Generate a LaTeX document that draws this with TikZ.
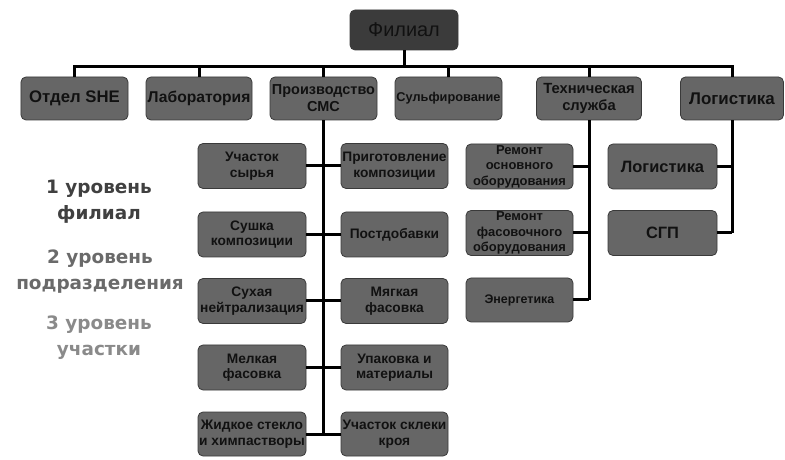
\documentclass[tikz,border=0pt]{standalone}
\usepackage{fontspec}
\setmainfont{Liberation Sans}
\newfontfamily\lblfont{DejaVu Sans}
\definecolor{topfill}{HTML}{3B3B3B}
\definecolor{boxfill}{HTML}{666666}
\definecolor{boxline}{HTML}{3A3A3A}
\definecolor{txtdark}{HTML}{111111}
\definecolor{lvlA}{HTML}{404040}
\definecolor{lvlB}{HTML}{6A6A6A}
\definecolor{lvlC}{HTML}{8A8A8A}
\newcommand{\fsz}[2]{\fontsize{#1}{#2}\selectfont}
\tikzset{
  orgbox/.style={rectangle, rounded corners=5bp, draw=boxline, line width=0.8bp,
    fill=boxfill, text=txtdark, align=center, inner sep=0pt},
  topbox/.style={orgbox, fill=topfill},
  wire/.style={line width=3bp, black},
  lvl/.style={align=center, font=\lblfont\bfseries\fsz{18.5}{26}}
}
\begin{document}
\begin{tikzpicture}[x=1bp,y=-1bp]
\useasboundingbox (0,0) rectangle (785,460);
\fill[white] (0,0) rectangle (785,460);
% top
\node[topbox, minimum width=108bp, minimum height=40bp, font=\fsz{20}{24}] (fil) at (404,30) {Филиал};
% level 2
\node[orgbox, minimum width=107bp, minimum height=43bp, font=\bfseries\fsz{16.8}{19}] (she) at (74.5,98.5) {Отдел SHE};
\node[orgbox, minimum width=106bp, minimum height=43bp, font=\bfseries\fsz{15.7}{18}] (lab) at (199,98.5) {Лаборатория};
\node[orgbox, minimum width=107bp, minimum height=43bp, font=\bfseries\fsz{14.5}{17}] (prod) at (323.5,98.5) {Производство\\СМС};
\node[orgbox, minimum width=107bp, minimum height=43bp, font=\bfseries\fsz{12.8}{15}] (sulf) at (448.5,98.5) {Сульфирование};
\node[orgbox, minimum width=105bp, minimum height=43bp, font=\bfseries\fsz{14.8}{17}] (tech) at (589,98.5) {Техническая\\служба};
\node[orgbox, minimum width=103bp, minimum height=43bp, font=\bfseries\fsz{17}{20}] (log) at (732,98.5) {Логистика};
% production children
\tikzset{pbox/.style={orgbox, minimum height=45bp, font=\bfseries\fsz{13.8}{15.5}}}
\node[pbox, minimum width=108bp] (p1) at (252,166) {Участок\\сырья};
\node[pbox, minimum width=107bp] (p2) at (394.5,166) {Приготовление\\композиции};
\node[pbox, minimum width=108bp] (p3) at (252,234.5) {Сушка\\композиции};
\node[pbox, minimum width=107bp] (p4) at (394.5,234.5) {Постдобавки};
\node[pbox, minimum width=108bp] (p5) at (252,301) {Сухая\\нейтрализация};
\node[pbox, minimum width=107bp] (p6) at (394.5,301) {Мягкая\\фасовка};
\node[pbox, minimum width=108bp] (p7) at (252,367.5) {Мелкая\\фасовка};
\node[pbox, minimum width=107bp] (p8) at (394.5,367.5) {Упаковка и\\материалы};
\node[pbox, minimum width=108bp, minimum height=44bp] (p9) at (252,434) {Жидкое стекло\\и химпастворы};
\node[pbox, minimum width=107bp, minimum height=44bp] (p10) at (394.5,434) {Участок склеки\\кроя};
% tech children
\node[orgbox, minimum width=107bp, minimum height=45bp, font=\bfseries\fsz{13}{15.5}] (t1) at (519.5,166.5) {Ремонт\\основного\\оборудования};
\node[orgbox, minimum width=107bp, minimum height=45bp, font=\bfseries\fsz{13}{15.5}] (t2) at (519.5,233) {Ремонт\\фасовочного\\оборудования};
\node[orgbox, minimum width=107bp, minimum height=44bp, font=\bfseries\fsz{12.5}{15}] (t3) at (519.5,300) {Энергетика};
% logistics children
\node[orgbox, minimum width=109bp, minimum height=45bp, font=\bfseries\fsz{16.5}{19}] (l1) at (662.5,166.5) {Логистика};
\node[orgbox, minimum width=109bp, minimum height=45bp, font=\bfseries\fsz{16.5}{19}] (l2) at (662.5,233) {СГП};
% bus
\draw[wire] (fil.south) -- ++(0,16) coordinate (bus);
\draw[wire] (she.north) -- (she.north |- bus) -- (log.north |- bus) -- (log.north);
\foreach \n in {lab,prod,sulf,tech} \draw[wire] (\n.north) -- (\n.north |- bus);
% production spine
\draw[wire] (prod.south) -- (prod.south |- p10.west);
\foreach \n in {p1,p3,p5,p7,p9} \draw[wire] (\n.east) -- (\n.east -| prod.south);
\foreach \n in {p2,p4,p6,p8,p10} \draw[wire] (\n.west) -- (\n.west -| prod.south);
% tech spine
\draw[wire] (tech.south) -- (tech.south |- t3.east);
\foreach \n in {t1,t2,t3} \draw[wire] (\n.east) -- (\n.east -| tech.south);
% logistics spine
\draw[wire] (log.south) -- (log.south |- l2.east);
\foreach \n in {l1,l2} \draw[wire] (\n.east) -- (\n.east -| log.south);
% level legend
\node[lvl, text=lvlA] (lv1) at (99,202) {1 уровень\\филиал};
\node[lvl, text=lvlB] (lv2) at (100,272) {2 уровень\\подразделения};
\node[lvl, text=lvlC] (lv3) at (99,338) {3 уровень\\участки};
\end{tikzpicture}
\end{document}
